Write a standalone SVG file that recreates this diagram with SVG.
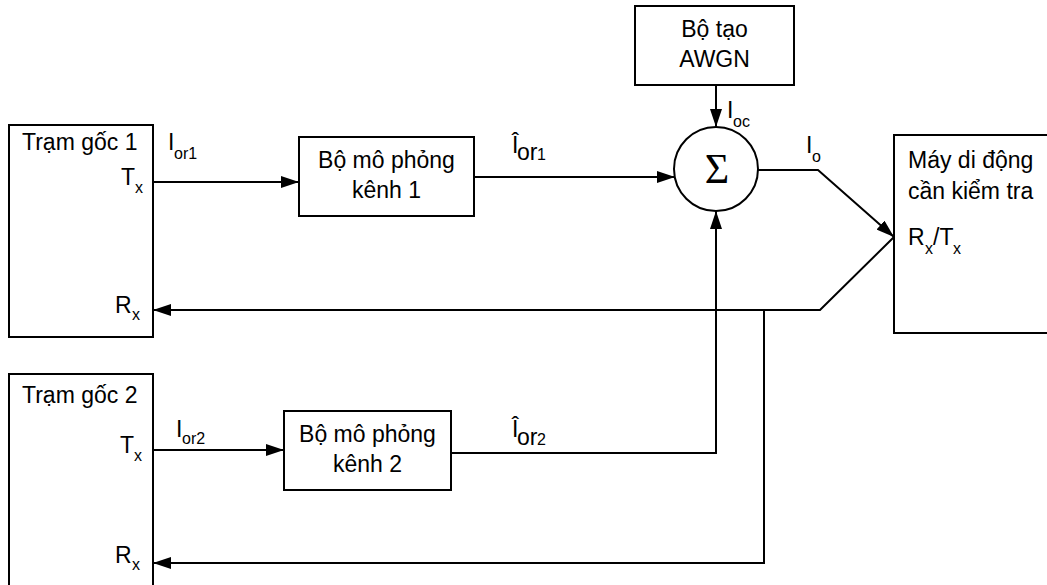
<svg xmlns="http://www.w3.org/2000/svg" width="1047" height="585" viewBox="0 0 1047 585">
<style>
.box{fill:#fff;stroke:#000;stroke-width:2}
.t{font-family:"Liberation Sans",Arial,sans-serif;font-size:23px;fill:#000}
.s{font-family:"Liberation Sans",Arial,sans-serif;font-size:16px;fill:#000}
.m{text-anchor:middle}
.c{fill:none;stroke:#000;stroke-width:2}
</style>
<defs>
<marker id="arr" markerUnits="userSpaceOnUse" markerWidth="18" markerHeight="12" refX="18" refY="6" orient="auto">
<path d="M0,0 L18,6 L0,12 z" fill="#000"/>
</marker>
</defs>
<rect width="1047" height="585" fill="#fff"/>
<g id="connectors">
<line class="c" x1="153" y1="182" x2="299" y2="182" marker-end="url(#arr)"/>
<line class="c" x1="153" y1="450" x2="284" y2="450" marker-end="url(#arr)"/>
<line class="c" x1="474" y1="177" x2="675" y2="177" marker-end="url(#arr)"/>
<line class="c" x1="716" y1="85" x2="716" y2="127" marker-end="url(#arr)"/>
<polyline class="c" points="451,453 716,453 716,211" marker-end="url(#arr)"/>
<polyline class="c" points="758,170 818,170 894,237" marker-end="url(#arr)"/>
<polyline class="c" points="894,237 820,310 153,310" marker-end="url(#arr)"/>
<polyline class="c" points="764,310 764,563 153,563" marker-end="url(#arr)"/>
</g>
<g id="tram1">
<rect class="box" x="9" y="125" width="144" height="212"/>
<text class="t" x="22" y="150">Trạm gốc 1</text>
<text class="t" x="121" y="185">T</text><text class="s" x="135" y="193">x</text>
<text class="t" x="115" y="313">R</text><text class="s" x="132" y="320">x</text>
</g>
<g id="tram2">
<rect class="box" x="9" y="374" width="144" height="220"/>
<text class="t" x="22" y="403">Trạm gốc 2</text>
<text class="t" x="120" y="453">T</text><text class="s" x="134" y="461">x</text>
<text class="t" x="115" y="563">R</text><text class="s" x="132" y="570">x</text>
</g>
<g id="kenh1">
<rect class="box" x="299" y="137" width="175" height="79"/>
<text class="t m" x="386.5" y="168">Bộ mô phỏng</text>
<text class="t m" x="386.5" y="198">kênh 1</text>
</g>
<g id="kenh2">
<rect class="box" x="284" y="411" width="167" height="79"/>
<text class="t m" x="367.5" y="442">Bộ mô phỏng</text>
<text class="t m" x="367.5" y="472">kênh 2</text>
</g>
<g id="awgn">
<rect class="box" x="635" y="6" width="159" height="79"/>
<text class="t m" x="714.5" y="37">Bộ tạo</text>
<text class="t m" x="714.5" y="67">AWGN</text>
</g>
<g id="sum">
<circle cx="716" cy="169" r="42" class="box"/>
<text x="717" y="183" text-anchor="middle" font-family="'Liberation Serif',serif" font-size="42">Σ</text>
</g>
<g id="may">
<rect class="box" x="894" y="135" width="160" height="198"/>
<text class="t" x="908" y="168">Máy di động</text>
<text class="t" x="908" y="199">cần kiểm tra</text>
<text class="t" x="908" y="245">R</text><text class="s" x="925" y="254">x</text><text class="t" x="933" y="245">/T</text><text class="s" x="953" y="254">x</text>
</g>
<g id="labels">
<text class="t" x="168" y="150">I</text><text class="s" x="174" y="159">or1</text>
<text class="t" x="176" y="437">I</text><text class="s" x="182" y="444">or2</text>
<text class="t" x="512" y="153">Î</text><text class="t" x="517" y="160">or</text><text class="s" x="537" y="160">1</text>
<text class="t" x="512" y="437">Î</text><text class="t" x="517" y="445">or</text><text class="s" x="537" y="445">2</text>
<text class="t" x="727" y="118">I</text><text class="s" x="733" y="127">oc</text>
<text class="t" x="806" y="153">I</text><text class="s" x="812" y="162">o</text>
</g>
</svg>
